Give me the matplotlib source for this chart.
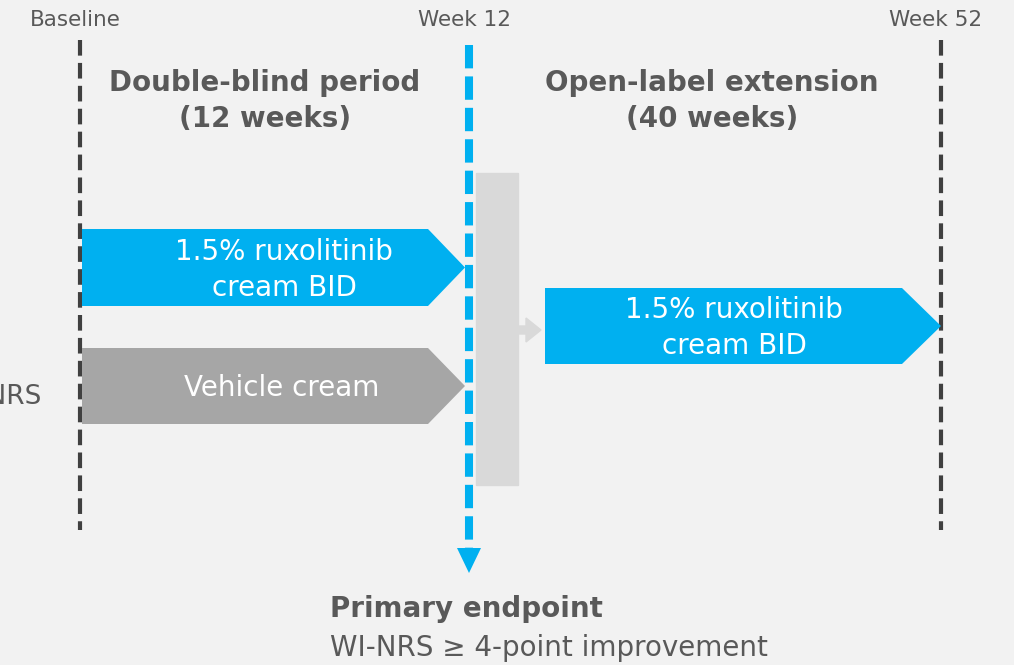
import matplotlib.pyplot as plt
from matplotlib.patches import Polygon, Rectangle

# timeline labels and positions (pixel coordinates of the picture)
timepoints = ["Baseline", "Week 12", "Week 52"]
time_x = [80, 469, 941]
period_titles = ["Double-blind period\n(12 weeks)", "Open-label extension\n(40 weeks)"]
period_x = [265, 712]
arm_labels = ["1.5% ruxolitinib\ncream BID", "Vehicle cream", "1.5% ruxolitinib\ncream BID"]
endpoint_title = "Primary endpoint"
endpoint_text = "WI-NRS \u2265 4-point improvement"

BG = "#f2f2f2"
TXT = "#595959"
BLUE = "#00b0f0"
GREY = "#a6a6a6"
LIGHT = "#d9d9d9"
DARK = "#404040"

plt.rcParams['font.family'] = ['DejaVu Sans']
fig = plt.figure(figsize=(10.14, 6.65), dpi=100, facecolor=BG)
ax = fig.add_axes([0, 0, 1, 1])
ax.set_xlim(0, 1014)
ax.set_ylim(665, 0)
ax.axis("off")
ax.set_facecolor(BG)

# timepoint labels
for lab, x in zip(timepoints, time_x):
    ax.text(x - 5, 20, lab, ha="center", va="center", fontsize=15.5, color=TXT)

# grey dashed lines at baseline / week 52
for x in [time_x[0], time_x[2]]:
    ax.plot([x, x], [40, 530], color=DARK, lw=3, dashes=(3.75, 1.75), solid_capstyle="butt")

# light grey transition box + small arrow
ax.add_patch(Rectangle((476, 173), 42, 312, color=LIGHT, zorder=1))
ax.add_patch(Polygon([(518, 326), (526, 326), (526, 318), (541, 330),
                      (526, 342), (526, 334), (518, 334)], closed=True, color=LIGHT, zorder=1))

def arm(x0, x1, tip, ytop, ybot, color):
    ym = (ytop + ybot) / 2
    ax.add_patch(Polygon([(x0, ytop), (x1, ytop), (tip, ym), (x1, ybot), (x0, ybot)],
                         closed=True, color=color, lw=0, zorder=2))

arm(82, 428, 465, 229, 306, BLUE)
arm(82, 428, 465, 348, 424, GREY)
arm(545, 902, 941, 288, 364, BLUE)

ax.text(284, 270, arm_labels[0], ha="center", va="center", fontsize=20, color="white", linespacing=1.35)
ax.text(282, 388, arm_labels[1], ha="center", va="center", fontsize=20, color="white")
ax.text(734, 328, arm_labels[2], ha="center", va="center", fontsize=20, color="white", linespacing=1.35)

# blue dashed week 12 line with arrow
ax.plot([469, 469], [45, 550], color=BLUE, lw=5.8, dashes=(2.9, 1.0), solid_capstyle="butt", zorder=3)
ax.add_patch(Polygon([(457, 548), (481, 548), (469, 573)], closed=True, color=BLUE, lw=0, zorder=3))

# period titles
for t, x in zip(period_titles, period_x):
    ax.text(x, 101, t, ha="center", va="center", fontsize=20, fontweight="bold",
            color=TXT, linespacing=1.35)

# partially visible side label
ax.text(42, 397, "WI-NRS", ha="right", va="center", fontsize=19, color=TXT)

# primary endpoint
ax.text(330, 609, endpoint_title, ha="left", va="center", fontsize=20, fontweight="bold", color=TXT)
ax.text(330, 648, endpoint_text, ha="left", va="center", fontsize=20, color=TXT)

fig.savefig("out.png", dpi=100, facecolor=BG)
